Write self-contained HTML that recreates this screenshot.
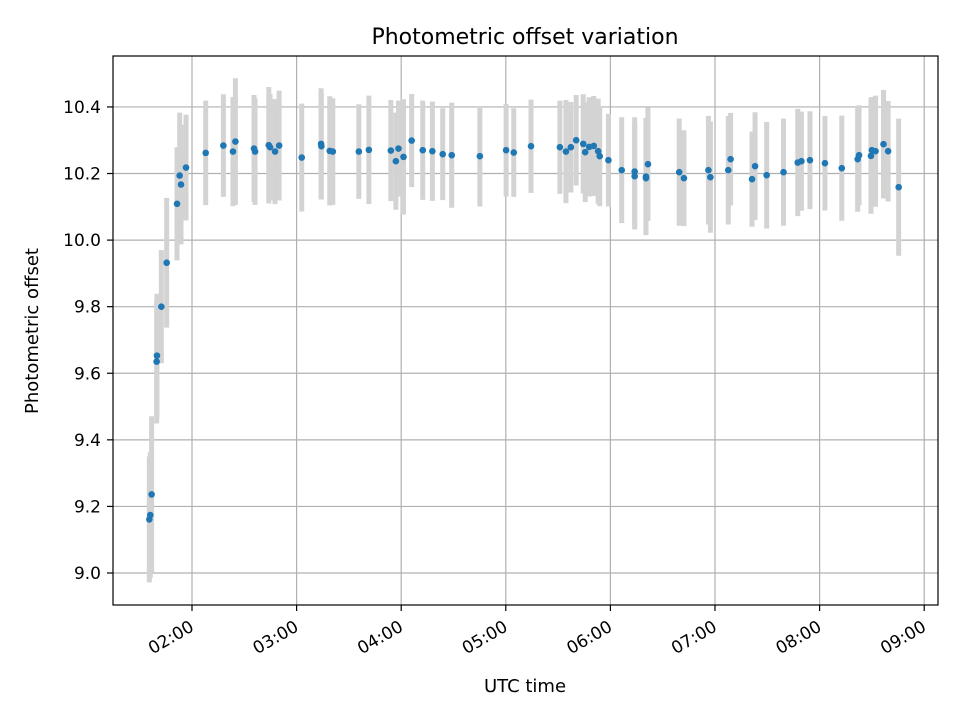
<!DOCTYPE html>
<html><head><meta charset="utf-8"><style>
body{margin:0;background:#fff;}
svg text{font-family:"DejaVu Sans","Liberation Sans",sans-serif;fill:#000;}
</style></head><body>
<svg id="chart" width="960" height="720" xmlns="http://www.w3.org/2000/svg">
<rect width="960" height="720" fill="#fff"/>
<g id="grid"></g>
<g id="bars"></g>
<g id="pts"></g>
<rect x="113" y="56" width="825" height="549" fill="none" stroke="#000" stroke-width="1.2"/>
<g id="ticks"></g>
<text x="525" y="44" font-size="22" text-anchor="middle">Photometric offset variation</text>
<text x="525" y="692" font-size="18" text-anchor="middle">UTC time</text>
<text transform="translate(38,331) rotate(-90)" font-size="18" text-anchor="middle">Photometric offset</text>
</svg>
<script>
const times=[1.592,1.601,1.614,1.662,1.665,1.707,1.758,1.857,1.882,1.895,1.943,2.131,2.30,2.392,2.415,2.593,2.603,2.734,2.746,2.794,2.833,3.049,3.234,3.237,3.317,3.346,3.595,3.691,3.901,3.949,3.974,4.022,4.100,
4.206,4.298,4.397,4.483,4.752,5.003,5.076,5.241,5.517,5.575,5.622,5.673,5.74,5.759,5.797,5.841,5.883,5.898,5.981,6.108,6.232,6.232,6.340,6.340,6.359,
6.658,6.703,6.937,6.956,7.127,7.149,7.354,7.383,7.494,7.655,7.791,7.826,7.908,8.051,8.212,8.364,8.377,8.491,8.5,8.535,8.611,8.655,8.756];
const values=[9.161,9.174,9.236,9.635,9.653,9.80,9.932,10.109,10.194,10.167,10.218,10.262,10.284,10.266,10.296,10.275,10.266,10.285,10.279,10.266,10.284,10.248,10.289,10.282,10.268,10.266,10.266,10.271,10.269,10.237,10.275,10.25,10.299,
10.270,10.267,10.258,10.255,10.252,10.270,10.263,10.282,10.279,10.266,10.279,10.30,10.289,10.264,10.28,10.283,10.267,10.252,10.24,10.21,10.206,10.192,10.191,10.186,10.228,
10.204,10.186,10.21,10.189,10.21,10.243,10.183,10.222,10.195,10.204,10.233,10.237,10.24,10.231,10.216,10.243,10.255,10.253,10.27,10.267,10.288,10.267,10.159];
const errors=[0.189,0.189,0.235,0.186,0.186,0.17,0.195,0.17,0.189,0.18,0.159,0.157,0.154,0.164,0.19,0.161,0.16,0.175,0.16,0.158,0.165,0.162,0.167,0.16,0.164,0.16,0.142,0.163,0.152,0.146,0.144,0.173,0.14,
0.149,0.149,0.138,0.158,0.151,0.139,0.133,0.140,0.140,0.155,0.136,0.136,0.149,0.15,0.149,0.15,0.158,0.15,0.139,0.159,0.163,0.16,0.176,0.17,0.17,
0.161,0.144,0.163,0.167,0.163,0.139,0.143,0.162,0.160,0.161,0.161,0.149,0.147,0.142,0.158,0.158,0.15,0.174,0.16,0.167,0.163,0.151,0.206];
const yTicks=[9.0,9.2,9.4,9.6,9.8,10.0,10.2,10.4];
const xTicks=[2,3,4,5,6,7,8,9];
const xTickLabels=["02:00","03:00","04:00","05:00","06:00","07:00","08:00","09:00"];
const NS="http://www.w3.org/2000/svg";
function xs(t){return 192+(t-2)*104.6;}
function ys(v){return 573-(v-9)*332.9;}
function mk(tag,attrs,parent){const e=document.createElementNS(NS,tag);for(const k in attrs)e.setAttribute(k,attrs[k]);parent.appendChild(e);return e;}
const grid=document.getElementById('grid'),ticks=document.getElementById('ticks'),bars=document.getElementById('bars'),pts=document.getElementById('pts');
yTicks.forEach(v=>{
  const g=mk('line',{x1:113,x2:938,y1:ys(v),y2:ys(v),stroke:'#b0b0b0','stroke-width':1.2},grid);
  
  
  const t=mk('line',{x1:107,x2:113,y1:ys(v),y2:ys(v),stroke:'#000','stroke-width':1.2},ticks);
  
  
  const l=mk('text',{x:101,y:ys(v)+6,'font-size':17,'text-anchor':'end'},ticks);
  l.textContent=v.toFixed(1);
  
  
});
xTicks.forEach((h,i)=>{
  const x=xs(h);
  const g=mk('line',{x1:x,x2:x,y1:56,y2:605,stroke:'#b0b0b0','stroke-width':1.2},grid);
  
  
  const t=mk('line',{x1:x,x2:x,y1:605,y2:611,stroke:'#000','stroke-width':1.2},ticks);
  
  
  const l=mk('text',{transform:`translate(${x+3},${630}) rotate(-30)`,'font-size':17,'text-anchor':'end'},ticks);
  l.textContent=xTickLabels[i];
  
  
});
times.forEach((t,i)=>{
  const b=mk('line',{x1:xs(t),x2:xs(t),y1:ys(values[i]+errors[i]),y2:ys(values[i]-errors[i]),stroke:'#d3d3d3','stroke-width':5},bars);
  
  
});
times.forEach((t,i)=>{
  const c=mk('circle',{cx:xs(t),cy:ys(values[i]),r:3.3,fill:'#1f77b4'},pts);
  
  
});
</script>
</body></html>
